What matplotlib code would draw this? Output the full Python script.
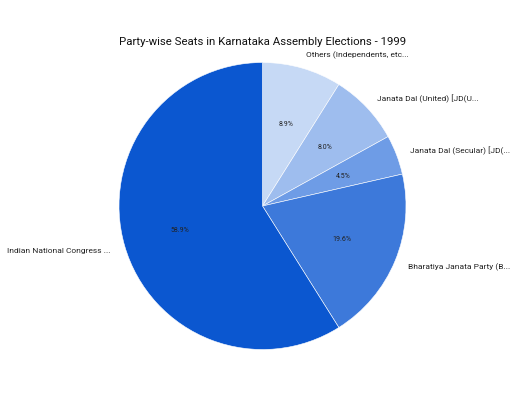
import matplotlib
matplotlib.use("Agg")
import matplotlib.pyplot as plt
import numpy as np

parties = ["Others (Independents, etc...", "Janata Dal (United) [JD(U...",
           "Janata Dal (Secular) [JD(...", "Bharatiya Janata Party (B...",
           "Indian National Congress ..."]
seats = [20, 18, 10, 44, 132]
colors = ["#c6d9f5", "#9ebdee", "#6e9ce6", "#3d79da", "#0b57d0"]

plt.rcParams['font.family'] = ['Roboto', 'DejaVu Sans']

W, H = 512, 410
fig = plt.figure(figsize=(W / 100, H / 100), dpi=100)
ax = fig.add_axes([0, 0, 1, 1])
cx, cy, R = 262.5, 207.0, 143.5
ax.axis('off')

wedges, texts, autotexts = ax.pie(
    seats, colors=colors, startangle=90, counterclock=False,
    autopct='%1.1f%%', pctdistance=0.6, radius=1.0,
    wedgeprops=dict(edgecolor='white', linewidth=0.4),
    textprops=dict(fontsize=5.0, color='#222222'))
ax.set_xlim(-cx / R, (W - cx) / R)
ax.set_ylim(-(H - cy) / R, cy / R)
ax.set_aspect('auto')

for w, name in zip(wedges, parties):
    ang = np.deg2rad((w.theta1 + w.theta2) / 2)
    x, y = 1.1 * np.cos(ang), 1.1 * np.sin(ang)
    ha = 'left' if x > 0 else 'right'
    ax.text(x, y, name, ha=ha, va='center', fontsize=6.0, color='#222222')

fig.text(cx / W, 1 - 42 / H, "Party-wise Seats in Karnataka Assembly Elections - 1999",
         ha='center', va='center', fontsize=8.2, color='#111111')

fig.savefig("out.png", dpi=100, facecolor='white')
